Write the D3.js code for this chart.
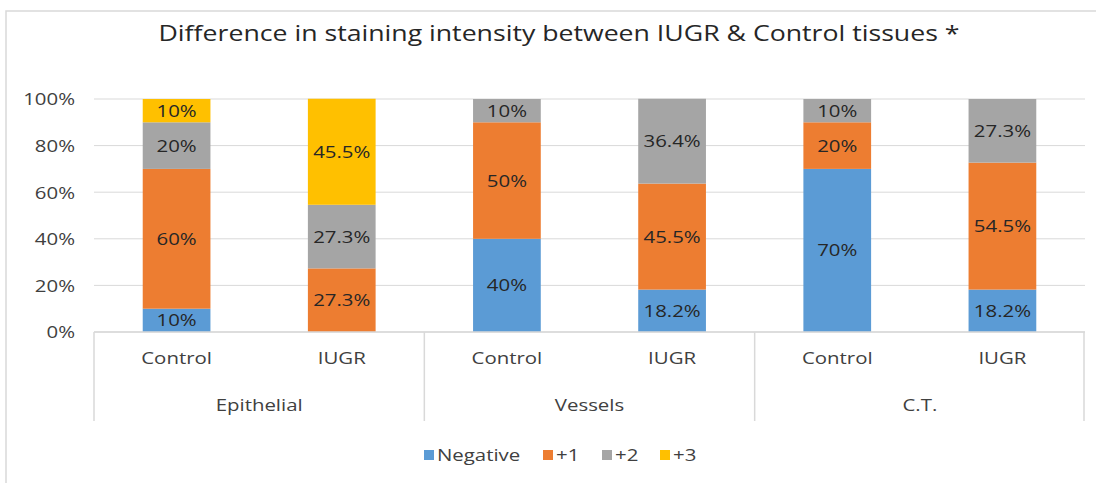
<!DOCTYPE html>
<html>
<head>
<meta charset="utf-8">
<script src="https://cdn.jsdelivr.net/npm/d3@7"></script>
<style>
  body { margin: 0; background: #fff; }
  text { font-family: 'Open Sans', 'DejaVu Sans', sans-serif; fill: #262626; }
</style>
</head>
<body>
<div id="chart"></div>
<script>
const groups = ['Epithelial', 'Vessels', 'C.T.']
const subGroups = ['Control', 'IUGR']
const seriesNames = ['Negative', '+1', '+2', '+3']
const seriesColors = ['#5B9BD5', '#ED7D31', '#A5A5A5', '#FFC000']
// one row per bar, in order: Epithelial Control, Epithelial IUGR, Vessels ...
const negative = [10, 0, 40, 18.2, 70, 18.2]
const plus1 = [60, 27.3, 50, 45.5, 20, 54.5]
const plus2 = [20, 27.3, 10, 36.4, 10, 27.3]
const plus3 = [10, 45.5, 0, 0, 0, 0]
const yTicks = [0, 20, 40, 60, 80, 100]

const width = 1096
const height = 483
const plotLeft = 94
const plotRight = 1085
const plotTop = 99
const plotBottom = 332
const stretch = 1.2 // text in the original is wider than Open Sans

const svg = d3.select('#chart').append('svg')
  .attr('width', width).attr('height', height)

// chart border
svg.append('path')
  .attr('d', `M6,${height} V11 H${width}`)
  .attr('fill', 'none').attr('stroke', '#d9d9d9').attr('stroke-width', 1.5)

const bars = []
groups.forEach((g, gi) => subGroups.forEach((s, si) => bars.push({ group: g, sub: s, i: gi * 2 + si })))

const x = d3.scaleBand().domain(bars.map(d => d.i)).range([plotLeft, plotRight]).paddingInner(0.59).paddingOuter(0.295)
const y = d3.scaleLinear().domain([0, 100]).range([plotBottom, plotTop])

// gridlines
svg.append('g').selectAll('line').data(yTicks).join('line')
  .attr('x1', plotLeft).attr('x2', plotRight)
  .attr('y1', d => y(d)).attr('y2', d => y(d))
  .attr('stroke', '#d9d9d9').attr('stroke-width', 1)

const yAxis = svg.append('g').attr('transform', `translate(${plotLeft - 19},0)`)
  .call(d3.axisLeft(y).tickValues(yTicks).tickFormat(d => d + '%').tickSize(0))
yAxis.select('.domain').remove()
yAxis.selectAll('text').attr('x', 0).attr('font-size', 17).attr('dy', '0.35em').style('fill', '#404040')

const series = [negative, plus1, plus2, plus3]
const table = bars.map(b => {
  const row = { i: b.i }
  seriesNames.forEach((n, k) => { row[n] = series[k][b.i] })
  return row
})
const stacked = d3.stack().keys(seriesNames)(table)

const layer = svg.append('g').selectAll('g').data(stacked).join('g')
  .attr('fill', (d, k) => seriesColors[k])

layer.selectAll('rect').data(d => d.filter(p => p[1] - p[0] > 0)).join('rect')
  .attr('x', d => x(d.data.i))
  .attr('width', x.bandwidth())
  .attr('y', d => y(d[1]))
  .attr('height', d => y(d[0]) - y(d[1]))

layer.selectAll('text').data(d => d.filter(p => p[1] - p[0] > 0).map(p => ({ p, key: d.key }))).join('text')
  .attr('x', d => x(d.p.data.i) + x.bandwidth() / 2)
  .attr('y', d => y((d.p[0] + d.p[1]) / 2))
  .attr('dy', '0.35em')
  .attr('text-anchor', 'middle')
  .attr('font-size', 17)
  .text(d => d.p.data[d.key] + '%')

// category axis
svg.append('line').attr('x1', plotLeft).attr('x2', plotRight)
  .attr('y1', plotBottom).attr('y2', plotBottom).attr('stroke', '#d9d9d9').attr('stroke-width', 1.5)

const step = x.step()
const groupEdges = d3.range(groups.length + 1).map(k => plotLeft + k * step * 2 - (k === groups.length ? 1 : 0))
svg.append('g').selectAll('line').data(groupEdges).join('line')
  .attr('x1', d => d).attr('x2', d => d)
  .attr('y1', plotBottom).attr('y2', 421)
  .attr('stroke', '#d9d9d9').attr('stroke-width', 1.5)

svg.append('g').selectAll('text').data(bars).join('text')
  .attr('x', d => x(d.i) + x.bandwidth() / 2)
  .attr('y', 358).attr('dy', '0.35em')
  .attr('text-anchor', 'middle').attr('font-size', 17).style('fill', '#404040')
  .text(d => d.sub)

svg.append('g').selectAll('text').data(groups).join('text')
  .attr('x', (d, k) => plotLeft + step * (2 * k + 1))
  .attr('y', 405).attr('dy', '0.35em')
  .attr('text-anchor', 'middle').attr('font-size', 17).style('fill', '#404040')
  .text(d => d)

// title
svg.append('text').attr('x', 559).attr('y', 34).attr('dy', '0.35em')
  .attr('text-anchor', 'middle').attr('font-size', 21).style('fill', '#262626')
  .attr('class', 'title')
  .text('Difference in staining intensity between  IUGR & Control  tissues *')

// legend
const legendItems = [
  { name: 'Negative', x: 424 },
  { name: '+1', x: 543 },
  { name: '+2', x: 602 },
  { name: '+3', x: 660 }
]
const legend = svg.append('g').selectAll('g').data(legendItems).join('g')
  .attr('transform', d => `translate(${d.x},455)`)
legend.append('rect').attr('x', 0).attr('y', -5).attr('width', 10).attr('height', 10)
  .attr('fill', (d, k) => seriesColors[k])
legend.append('text').attr('x', 13).attr('dy', '0.35em').attr('font-size', 17).style('fill', '#404040')
  .text(d => d.name)

// widen every label around its own anchor point
svg.selectAll('text').each(function () {
  const t = d3.select(this)
  const tx = +t.attr('x') || 0
  const ty = +t.attr('y') || 0
  const sx = t.classed('title') ? 1.27 : stretch
  t.attr('x', 0).attr('y', 0)
    .attr('transform', `translate(${tx},${ty}) scale(${sx},1)`)
})
</script>
</body>
</html>
